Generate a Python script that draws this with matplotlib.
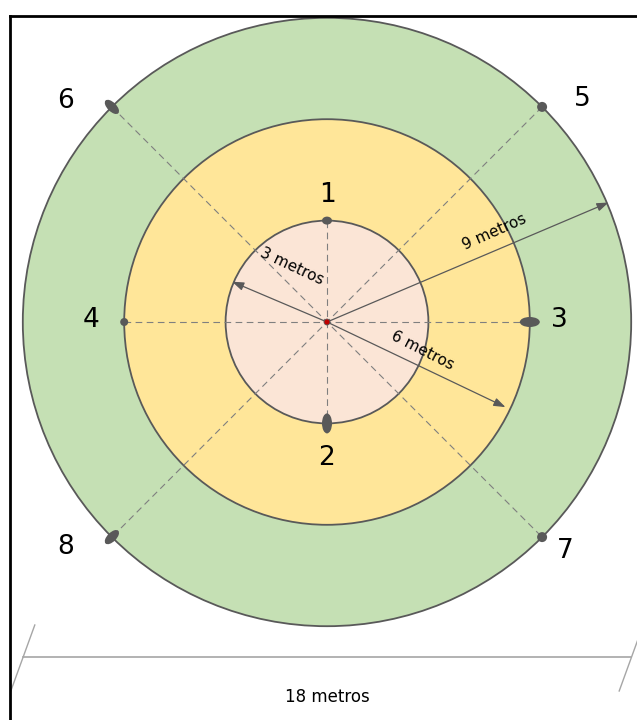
import numpy as np
import matplotlib
matplotlib.use("Agg")
import matplotlib.pyplot as plt
from matplotlib.patches import Circle, Ellipse

# rings (metres) and their fill colours
radii = [9, 6, 3]
ring_colors = ["#C5E0B4", "#FFE699", "#FBE5D6"]

# measurement points: label, radius (m), angle (deg)
point_labels = ["1", "2", "3", "4", "5", "6", "7", "8"]
point_r = [3, 3, 6, 6, 9, 9, 9, 9]
point_ang = [90, 270, 0, 180, 45, 135, -45, 225]

# radius arrows: text, length (m), angle (deg)
arrow_labels = ["3 metros", "6 metros", "9 metros"]
arrow_len = [3.05, 5.85, 9.05]
arrow_ang = [157, -25.5, 23]

span_label = "18 metros"
span = 18

# scale: pixels per metre, centre at pixel (327, 322)
ppm = 33.8
cx, cy = 327, 322
W, H = 637, 720

fig = plt.figure(figsize=(W / 100, H / 100), dpi=100)
ax = fig.add_axes([0, 0, 1, 1])
ax.set_xlim(-cx / ppm, (W - cx) / ppm)
ax.set_ylim(-(H - cy) / ppm, cy / ppm)
ax.set_aspect("equal")
ax.axis("off")

edge = "#595959"
for r, c in zip(radii, ring_colors):
    ax.add_patch(Circle((0, 0), r, facecolor=c, edgecolor=edge, lw=1.3, zorder=1))

def pol(r, a):
    return r * np.cos(np.radians(a)), r * np.sin(np.radians(a))

pts = [pol(r, a) for r, a in zip(point_r, point_ang)]

# dashed guide lines between opposite points
dash = dict(color="#7f7f7f", lw=0.8, ls=(0, (6, 4)), zorder=2)
for i, j in [(3, 2), (0, 1), (5, 6), (4, 7)]:
    ax.plot([pts[i][0], pts[j][0]], [pts[i][1], pts[j][1]], **dash)

# marker shapes (width, height in px, angle)
mk_w = [10, 10, 20, 8, 10, 9, 10, 9]
mk_h = [8, 20, 10, 8, 10, 18, 10, 18]
mk_a = [0, 0, 0, 0, 0, 45, 0, -45]
for (x, y), w, h, a in zip(pts, mk_w, mk_h, mk_a):
    ax.add_patch(Ellipse((x, y), w / ppm, h / ppm, angle=a,
                         facecolor="#595959", edgecolor="none", zorder=4))

# number labels, offset from marker (px)
lab_dx = [0, 0, 30, -33, 40, -46, 23, -46]
lab_dy = [26, -35, 2, 2, 8, 6, -14, -10]
for (x, y), t, dx, dy in zip(pts, point_labels, lab_dx, lab_dy):
    ax.text(x + dx / ppm, y + dy / ppm, t, fontsize=19, ha="center",
            va="center", color="black", zorder=5)

# radius arrows
for t, L, a in zip(arrow_labels, arrow_len, arrow_ang):
    ex, ey = pol(L, a)
    ax.annotate("", xy=(ex, ey), xytext=(0, 0),
                arrowprops=dict(arrowstyle="-|>,head_length=0.7,head_width=0.25",
                                color="#595959", lw=0.9, shrinkA=0, shrinkB=0),
                zorder=3)

# arrow captions
cap_x = [-1.04, 2.83, 4.94]
cap_y = [1.64, -0.83, 2.65]
cap_rot = [-25, -27, 24]
for t, x, y, rot in zip(arrow_labels, cap_x, cap_y, cap_rot):
    ax.text(x, y, t, fontsize=11, rotation=rot, rotation_mode="anchor",
            ha="center", va="center", zorder=5)

# centre dot
ax.add_patch(Circle((0, 0), 3 / ppm, facecolor="#C00000", edgecolor="#595959",
                    lw=0.6, zorder=5))

# overall dimension line
ly = -(657 - cy) / ppm
ax.plot([-span / 2, span / 2], [ly, ly], color="#a6a6a6", lw=1.2)
for x0 in (-span / 2, span / 2):
    ax.plot([x0 + 12 / ppm, x0 - 12 / ppm], [ly + 32 / ppm, ly - 34 / ppm],
            color="#a6a6a6", lw=1)
ax.text(0, -(697 - cy) / ppm, span_label, fontsize=12, ha="center", va="center")

# frame (top and left border)
fig.add_artist(plt.Line2D([10 / W, 1], [1 - 16 / H, 1 - 16 / H],
                          color="black", lw=2))
fig.add_artist(plt.Line2D([10 / W, 10 / W], [0, 1 - 16 / H],
                          color="black", lw=2))

fig.savefig("out.png", dpi=100)
